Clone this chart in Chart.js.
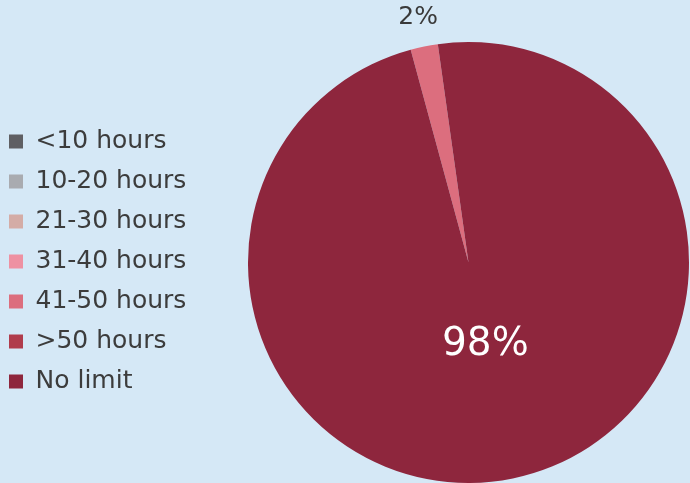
<!DOCTYPE html>
<html>
<head>
<meta charset="utf-8">
<script src="https://cdn.jsdelivr.net/npm/chart.js@4"></script>
<style>
  html, body { margin: 0; padding: 0; background: #d5e8f6; }
  #wrap { width: 690px; height: 483px; }
</style>
</head>
<body>
<div id="wrap"><canvas id="chart" width="690" height="483"></canvas></div>
<script>
// Categorías y valores (%)
const categories = ["<10 hours", "10-20 hours", "21-30 hours", "31-40 hours", "41-50 hours", ">50 hours", "No limit"];
const shares = [0, 0, 0, 0, 2, 0, 98];
const colors = ["#5f5f63", "#a9abb0", "#d4aca6", "#ee91a2", "#dc6e7e", "#b03c4c", "#8e263d"];

// Etiquetas de porcentaje sobre cada porción
const sliceLabels = {
  id: "sliceLabels",
  afterDatasetsDraw(chart) {
    const { ctx } = chart;
    const meta = chart.getDatasetMeta(0);
    meta.data.forEach((arc, i) => {
      const v = shares[i];
      if (!v) return;
      const mid = (arc.startAngle + arc.endAngle) / 2;
      const outside = v < 5;
      const dist = outside ? arc.outerRadius + 30 : arc.outerRadius * 0.38;
      ctx.save();
      ctx.font = outside ? "25px 'DejaVu Sans'" : "39px 'DejaVu Sans'";
      ctx.fillStyle = outside ? "#3a3a3a" : "#ffffff";
      ctx.textAlign = "center";
      ctx.textBaseline = "middle";
      ctx.fillText(v + "%", arc.x + Math.cos(mid) * dist, arc.y + Math.sin(mid) * dist);
      ctx.restore();
    });
  },
};

// Ancho fijo de la leyenda para que la torta quede a la derecha
const legendFit = {
  id: "legendFit",
  beforeInit(chart) {
    const fit = chart.legend.fit;
    chart.legend.fit = function () {
      fit.call(this);
      this.width = 247;
    };
  },
  afterLayout(chart) {
    chart.legend.left -= 6;
    chart.legend.top -= 4;
  },
};

new Chart(document.getElementById("chart"), {
  type: "pie",
  data: {
    labels: categories,
    datasets: [
      {
        data: shares,
        backgroundColor: colors,
        borderWidth: 0,
      },
    ],
  },
  options: {
    responsive: false,
    devicePixelRatio: 1,
    animation: false,
    rotation: -15.2,
    layout: { padding: { top: 42, bottom: -2, right: -2, left: 0 } },
    plugins: {
      tooltip: { enabled: false },
      legend: {
        position: "left",
        align: "center",
        labels: {
          boxWidth: 14,
          boxHeight: 14,
          padding: 15,
          color: "#3c3c3c",
          font: { family: "'DejaVu Sans'", size: 25 },
        },
      },
    },
  },
  plugins: [legendFit, sliceLabels],
});
</script>
</body>
</html>
